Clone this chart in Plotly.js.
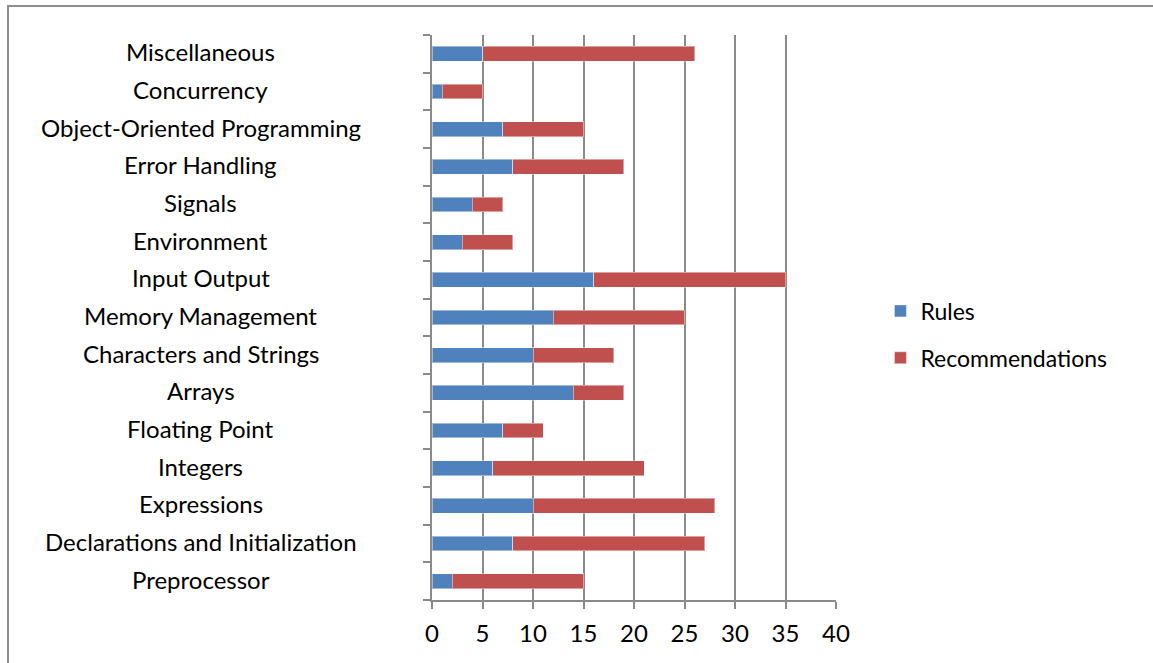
<!DOCTYPE html>
<html>
<head>
<meta charset="utf-8">
<script src="https://cdn.plot.ly/plotly-3.0.1.min.js"></script>
<style>
  html, body { margin: 0; padding: 0; background: #fff; overflow: hidden; }
  #frame { position: absolute; left: 7px; top: 5px; width: 1300px; height: 800px;
           border: 2px solid #8e8e8e; box-sizing: border-box; }
  #chart { position: absolute; left: 0; top: 0; width: 1153px; height: 663px; }
</style>
</head>
<body>
<div id="frame"></div>
<div id="chart"></div>
<script>
// Categories listed bottom to top
const categories = [
  "Preprocessor",
  "Declarations and Initialization",
  "Expressions",
  "Integers",
  "Floating Point",
  "Arrays",
  "Characters and Strings",
  "Memory Management",
  "Input Output",
  "Environment",
  "Signals",
  "Error Handling",
  "Object-Oriented Programming",
  "Concurrency",
  "Miscellaneous"
];
const rules           = [2, 8, 10, 6, 7, 14, 10, 12, 16, 3, 4, 8, 7, 1, 5];
const recommendations = [13, 19, 18, 15, 4, 5, 8, 13, 19, 5, 3, 11, 8, 4, 21];
const seriesNames = ["Rules", "Recommendations"];
const xTicks = [0, 5, 10, 15, 20, 25, 30, 35, 40];

const FONT = "Lato, 'Open Sans', sans-serif";

const traces = [
  {
    type: "bar", orientation: "h", name: seriesNames[0],
    y: categories, x: rules, legendgroup: "a",
    marker: { color: "#4F81BD", line: { color: "rgba(255,255,255,0.45)", width: 1 } },
    hoverinfo: "x+y+name"
  },
  {
    type: "bar", orientation: "h", name: seriesNames[1],
    y: categories, x: recommendations, legendgroup: "b",
    marker: { color: "#C0504D", line: { color: "rgba(255,255,255,0.45)", width: 1 } },
    hoverinfo: "x+y+name"
  }
];

const annotations = categories.map(c => ({
  x: -0.572, xref: "paper", y: c, yref: "y", yshift: 2,
  text: c, showarrow: false, xanchor: "center", yanchor: "middle",
  font: { family: FONT, size: 24, color: "#000" }
}));

const layout = {
  width: 1153, height: 663,
  margin: { l: 432, r: 317, t: 35, b: 63, pad: 0 },
  paper_bgcolor: "rgba(0,0,0,0)",
  plot_bgcolor: "rgba(0,0,0,0)",
  barmode: "stack",
  bargap: 0.61,
  font: { family: FONT, size: 24, color: "#000" },
  xaxis: {
    range: [0, 40],
    tickvals: xTicks,
    ticktext: xTicks.map(String),
    showgrid: true, gridcolor: "#8a8a8a", gridwidth: 2,
    showline: true, linecolor: "#8a8a8a", linewidth: 2,
    ticks: "outside", ticklen: 7, tickwidth: 2, tickcolor: "#8a8a8a",
    zeroline: false,
    tickfont: { family: FONT, size: 24, color: "#000" },
    ticklabelstandoff: 4
  },
  yaxis: {
    type: "category",
    categoryorder: "array", categoryarray: categories,
    showgrid: false,
    showline: true, linecolor: "#8a8a8a", linewidth: 2,
    ticks: "outside", ticklen: 7, tickwidth: 2, tickcolor: "#8a8a8a",
    tickson: "boundaries",
    showticklabels: false,
    zeroline: false
  },
  showlegend: true,
  legend: {
    x: 1.11, xanchor: "left", y: 0.47, yanchor: "middle",
    traceorder: "grouped", tracegroupgap: 14,
    bgcolor: "rgba(0,0,0,0)",
    font: { family: FONT, size: 23, color: "#000" },
    itemclick: false
  },
  annotations: annotations
};

Plotly.newPlot("chart", traces, layout, { displayModeBar: false, staticPlot: true });
</script>
</body>
</html>
